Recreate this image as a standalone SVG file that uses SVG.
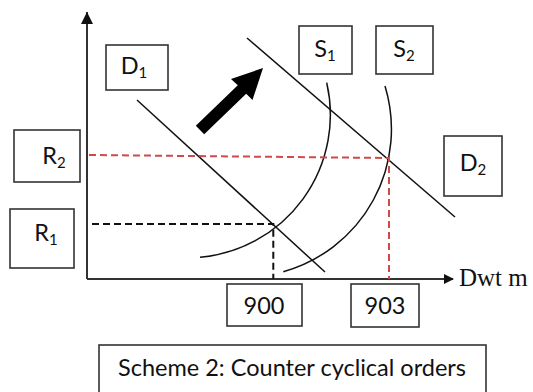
<svg xmlns="http://www.w3.org/2000/svg" width="533" height="392" viewBox="0 0 533 392">
  <style>
    .box { fill: #fff; stroke: #333; stroke-width: 1.6; }
    .lbl { font-family: Lato, "Open Sans", "Liberation Sans", sans-serif; font-size: 23.5px; fill: #111; text-anchor: middle; }
    .sub { font-size: 15px; }
    .axis { stroke: #333; stroke-width: 2; fill: none; }
    .curve { stroke: #111; stroke-width: 1.5; fill: none; }
    .dashK { stroke: #111; stroke-width: 2; stroke-dasharray: 7 4; fill: none; }
    .dashR { stroke: #d04a4a; stroke-width: 2; stroke-dasharray: 7 4; fill: none; }
  </style>
  <defs>
    <marker id="tip" markerWidth="10" markerHeight="10" refX="9" refY="5" orient="auto" markerUnits="userSpaceOnUse" viewBox="0 0 10 10">
      <path d="M0,0 L10,5 L0,10 Z" fill="#111"/>
    </marker>
    <marker id="tipY" markerWidth="14" markerHeight="12" refX="12" refY="6" orient="auto" markerUnits="userSpaceOnUse" viewBox="0 0 12 12">
      <path d="M0,0 L12,6 L0,12 Z" fill="#111"/>
    </marker>
  </defs>

  <rect width="533" height="392" fill="#fff"/>

  <g id="connectors">
    <!-- axes -->
    <line class="axis" x1="87" y1="279" x2="87" y2="12" marker-end="url(#tipY)"/>
    <line class="axis" x1="87" y1="279" x2="453" y2="279" marker-end="url(#tip)"/>
    <!-- demand lines -->
    <line class="curve" x1="137" y1="100" x2="325" y2="272"/>
    <line class="curve" x1="247" y1="38" x2="455" y2="217"/>
    <!-- supply curves (circular arcs) -->
    <path class="curve" d="M326.7,82.7 A143,143 0 0 1 200,257.3"/>
    <path class="curve" d="M385,86 A148,148 0 0 1 283.3,271.7"/>
    <!-- equilibrium guides -->
    <path class="dashK" d="M92,224 H273.3 V279"/>
    <path class="dashR" d="M89,155 L389,158 V279"/>
    <!-- shift arrow -->
    <polygon points="195.8,125.7 237.8,85.2 231,79 263,68 252.5,100 246.2,93.8 204.2,134.3" fill="#000"/>
  </g>

  <text x="459" y="286" font-family="'Liberation Serif', serif" font-size="25" fill="#111">Dwt m</text>

  <g id="D1"><rect class="box" x="106" y="45" width="62" height="45"/><text class="lbl" x="134" y="74">D<tspan class="sub" dy="4">1</tspan></text></g>
  <g id="R2"><rect class="box" x="14" y="130" width="66" height="52"/><text class="lbl" x="54" y="164">R<tspan class="sub" dy="4">2</tspan></text></g>
  <g id="R1"><rect class="box" x="10" y="209" width="64" height="59"/><text class="lbl" x="46" y="241">R<tspan class="sub" dy="4">1</tspan></text></g>
  <g id="S1"><rect class="box" x="299" y="26" width="53" height="48"/><text class="lbl" x="325" y="57">S<tspan class="sub" dy="4">1</tspan></text></g>
  <g id="S2"><rect class="box" x="376" y="26" width="57" height="48"/><text class="lbl" x="404" y="57">S<tspan class="sub" dy="4">2</tspan></text></g>
  <g id="D2"><rect class="box" x="444" y="136" width="58" height="60"/><text class="lbl" x="473" y="171">D<tspan class="sub" dy="4">2</tspan></text></g>
  <g id="q900"><rect class="box" x="227" y="284" width="75" height="42"/><text class="lbl" x="264" y="314">900</text></g>
  <g id="q903"><rect class="box" x="351" y="284" width="68" height="43"/><text class="lbl" x="385" y="314">903</text></g>
  <g id="caption"><rect class="box" x="99" y="345" width="387" height="50"/><text class="lbl" x="292" y="376">Scheme 2: Counter cyclical orders</text></g>
</svg>
